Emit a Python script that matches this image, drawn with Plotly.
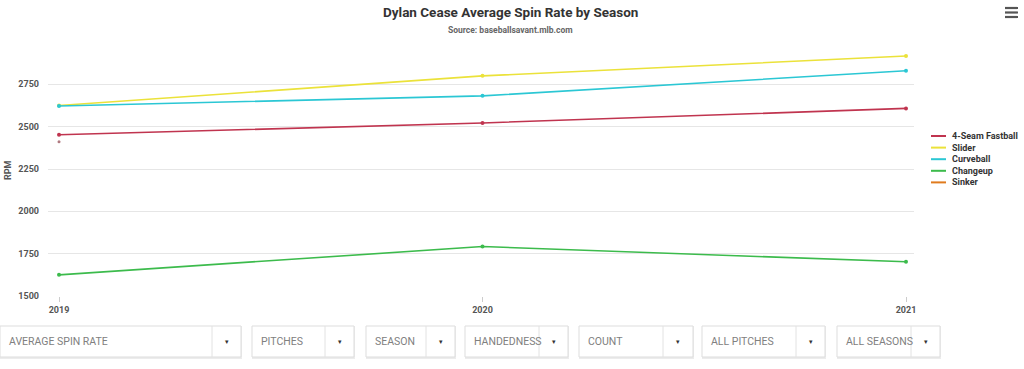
import plotly.graph_objects as go

seasons = [2019, 2020, 2021]
four_seam = [2452, 2522, 2608]
slider = [2625, 2800, 2917]
curveball = [2622, 2682, 2830]
changeup = [1625, 1792, 1702]
sinker = [2411, None, None]

series_names = ["4-Seam Fastball", "Slider", "Curveball", "Changeup", "Sinker"]
series_values = [four_seam, slider, curveball, changeup, sinker]
series_colors = ["#c0344f", "#ebe23a", "#2bc7d4", "#3cbb4c", "#e07b1e"]

y_ticks = [1500, 1750, 2000, 2250, 2500, 2750]

dropdown_labels = ["AVERAGE SPIN RATE", "PITCHES", "SEASON", "HANDEDNESS",
                   "COUNT", "ALL PITCHES", "ALL SEASONS"]

W, H = 1024, 369
L, R, T, B = 48, 110, 42, 73
PW, PH = W - L - R, H - T - B


def px(x):
    return (x - L) / PW


def py(y):
    return (H - B - y) / PH


fig = go.Figure()
for name, vals, col in zip(series_names, series_values, series_colors):
    fig.add_trace(go.Scatter(
        x=seasons, y=vals, name=name, mode="lines+markers",
        line=dict(color=col, width=1.6),
        marker=dict(color=col if name != "Sinker" else "#b07a80", size=4 if name != "Sinker" else 3),
        connectgaps=False, showlegend=False,
    ))

shapes = []
annotations = []

# legend (drawn from series names/colours)
for i, (name, col) in enumerate(zip(series_names, series_colors)):
    yy = 136 + i * 11.6
    shapes.append(dict(type="line", xref="paper", yref="paper",
                       x0=px(931), x1=px(946), y0=py(yy), y1=py(yy),
                       line=dict(color=col, width=2)))
    annotations.append(dict(xref="paper", yref="paper", x=px(950), y=py(yy),
                            text=f"<b>{name}</b>", showarrow=False,
                            xanchor="left", yanchor="middle",
                            font=dict(family="Roboto", size=9, color="#333333")))

# dropdown boxes (pixel geometry): left, divider, right
boxes = [(0, 212, 241), (252, 325, 354), (366, 426, 455), (465, 539, 568),
         (579, 663, 693), (702, 796, 825), (837, 911, 940)]
top, bot = 326, 357
for (x0, xd, x1), lab in zip(boxes, dropdown_labels):
    shapes.append(dict(type="rect", xref="paper", yref="paper",
                       x0=px(x0 + 1), x1=px(x1), y0=py(bot + 1), y1=py(top + 1),
                       line=dict(color="#ececec", width=2), fillcolor="rgba(0,0,0,0)"))
    shapes.append(dict(type="rect", xref="paper", yref="paper",
                       x0=px(x0), x1=px(x1), y0=py(bot), y1=py(top),
                       line=dict(color="#dddddd", width=1), fillcolor="white"))
    shapes.append(dict(type="line", xref="paper", yref="paper",
                       x0=px(xd), x1=px(xd), y0=py(bot), y1=py(top),
                       line=dict(color="#e2e2e2", width=1)))
    annotations.append(dict(xref="paper", yref="paper", x=px(x0 + 7), y=py((top + bot) / 2),
                            text=lab, showarrow=False, xanchor="left", yanchor="middle",
                            font=dict(family="Roboto", size=10.5, color="#808080")))
    annotations.append(dict(xref="paper", yref="paper", x=px((xd + x1) / 2), y=py((top + bot) / 2),
                            text="\u25be", showarrow=False, xanchor="center", yanchor="middle",
                            font=dict(family="DejaVu Sans", size=7, color="#333333")))

# hamburger menu icon
for yy in (8, 12.5, 17):
    shapes.append(dict(type="line", xref="paper", yref="paper",
                       x0=px(1005), x1=px(1018), y0=py(yy), y1=py(yy),
                       line=dict(color="#555555", width=2.2)))

annotations.append(dict(xref="paper", yref="paper", x=px(510), y=py(12),
                        text="<b>Dylan Cease Average Spin Rate by Season</b>", showarrow=False,
                        xanchor="center", yanchor="middle",
                        font=dict(family="Roboto", size=13.5, color="#333333")))
annotations.append(dict(xref="paper", yref="paper", x=px(510), y=py(30),
                        text="<b>Source: baseballsavant.mlb.com</b>", showarrow=False,
                        xanchor="center", yanchor="middle",
                        font=dict(family="Roboto", size=8.5, color="#666666")))
annotations.append(dict(xref="paper", yref="paper", x=px(8), y=py(170),
                        text="<b>RPM</b>", showarrow=False, textangle=-90,
                        xanchor="center", yanchor="middle",
                        font=dict(family="Roboto", size=9, color="#555555")))

fig.update_layout(
    width=W, height=H,
    margin=dict(l=L, r=R, t=T, b=B, pad=0, autoexpand=False),
    paper_bgcolor="white", plot_bgcolor="white",
    showlegend=False,
    xaxis=dict(range=[2019 - 11 / 423.5, 2021 + 8 / 423.5], tickvals=seasons,
               ticktext=[f"<b>{s}</b>" for s in seasons],
               showgrid=False, zeroline=False, showline=False, automargin=False,
               ticks="outside", ticklen=5, tickcolor="#cccccc",
               tickfont=dict(family="Roboto", size=9, color="#555555")),
    yaxis=dict(range=[1500, 3000], tickvals=y_ticks,
               ticktext=[f"<b>{v}</b>" for v in y_ticks],
               showgrid=True, gridcolor="#e6e6e6", gridwidth=1, zeroline=False,
               showline=False, ticks="", ticklabelstandoff=8, automargin=False,
               tickfont=dict(family="Roboto", size=9, color="#555555")),
    shapes=shapes, annotations=annotations,
)

fig.write_html("out.html", config={"displayModeBar": False},
               post_script="document.body.style.margin='0px';document.body.style.overflow='hidden';")
